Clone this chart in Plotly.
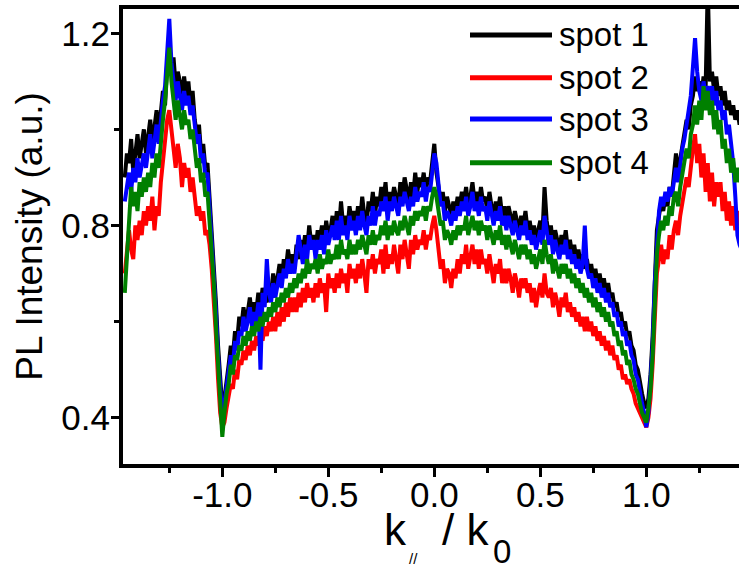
import numpy as np
import plotly.graph_objects as go

# sampling of k_par / k0 (step 0.01)
k_ratio = np.round(np.linspace(-1.46, 1.46, 293), 2)

spot1 = [0.90, 0.95, 0.93, 0.98, 0.91, 0.96, 0.99, 0.94, 0.97, 1.00,
         0.95, 0.98, 1.02, 0.97, 1.00, 1.04, 0.99, 1.03, 1.08, 1.05,
         1.14, 1.18, 1.12, 1.15, 1.09, 1.12, 1.10, 1.06, 1.11, 1.07,
         1.10, 1.05, 1.08, 1.02, 0.99, 1.01, 0.95, 0.97, 0.92, 0.93,
         0.86, 0.80, 0.73, 0.64, 0.55, 0.47, 0.42, 0.44, 0.47, 0.51,
         0.55, 0.53, 0.58, 0.56, 0.61, 0.59, 0.63, 0.60, 0.62, 0.65,
         0.61, 0.64, 0.62, 0.66, 0.63, 0.67, 0.65, 0.64, 0.68, 0.66,
         0.70, 0.67, 0.69, 0.72, 0.68, 0.73, 0.71, 0.75, 0.72, 0.74,
         0.71, 0.76, 0.73, 0.77, 0.74, 0.78, 0.75, 0.80, 0.76, 0.78,
         0.75, 0.79, 0.77, 0.80, 0.76, 0.81, 0.78, 0.79, 0.82, 0.78,
         0.83, 0.79, 0.85, 0.80, 0.82, 0.79, 0.84, 0.81, 0.83, 0.80,
         0.84, 0.81, 0.86, 0.82, 0.80, 0.85, 0.83, 0.87, 0.82, 0.86,
         0.84, 0.88, 0.85, 0.89, 0.83, 0.87, 0.85, 0.88, 0.86, 0.84,
         0.89, 0.86, 0.90, 0.87, 0.85, 0.89, 0.86, 0.91, 0.87, 0.90,
         0.88, 0.91, 0.87, 0.90, 0.89, 0.93, 0.97, 0.91, 0.88, 0.85,
         0.87, 0.83, 0.86, 0.84, 0.82, 0.85, 0.83, 0.86, 0.84, 0.87,
         0.85, 0.88, 0.84, 0.86, 0.89, 0.85, 0.87, 0.84, 0.88, 0.85,
         0.86, 0.83, 0.87, 0.84, 0.82, 0.85, 0.83, 0.86, 0.82, 0.84,
         0.81, 0.84, 0.82, 0.80, 0.83, 0.81, 0.79, 0.82, 0.80, 0.83,
         0.79, 0.81, 0.78, 0.80, 0.77, 0.79, 0.81, 0.78, 0.88, 0.81,
         0.78, 0.80, 0.76, 0.79, 0.77, 0.75, 0.78, 0.76, 0.79, 0.75,
         0.77, 0.74, 0.76, 0.73, 0.75, 0.72, 0.74, 0.71, 0.73, 0.70,
         0.72, 0.69, 0.71, 0.68, 0.70, 0.67, 0.69, 0.66, 0.68, 0.65,
         0.66, 0.63, 0.64, 0.61, 0.62, 0.59, 0.60, 0.57, 0.58, 0.55,
         0.54, 0.51, 0.50, 0.47, 0.45, 0.43, 0.42, 0.44, 0.49, 0.57,
         0.70, 0.79, 0.82, 0.85, 0.83, 0.86, 0.84, 0.88, 0.86, 0.90,
         0.95, 0.91, 0.94, 0.97, 0.99, 1.02, 1.00, 1.05, 1.07, 1.11,
         1.08, 1.10, 1.07, 1.11, 1.09, 1.30, 1.10, 1.12, 1.08, 1.11,
         1.07, 1.09, 1.05, 1.08, 1.04, 1.06, 1.03, 1.05, 1.02, 1.04,
         1.01, 1.03, 1.00]

spot2 = [0.70, 0.74, 0.79, 0.75, 0.73, 0.80, 0.77, 0.81, 0.78, 0.83,
         0.80, 0.84, 0.81, 0.86, 0.79, 0.84, 0.82, 0.89, 0.94, 0.99,
         1.02, 1.04, 0.99, 0.96, 0.92, 0.97, 0.94, 0.88, 0.93, 0.90,
         0.92, 0.87, 0.90, 0.85, 0.82, 0.84, 0.81, 0.83, 0.78, 0.79,
         0.76, 0.71, 0.65, 0.57, 0.48, 0.41, 0.38, 0.39, 0.42, 0.45,
         0.47, 0.46, 0.50, 0.48, 0.52, 0.51, 0.54, 0.52, 0.55, 0.53,
         0.56, 0.54, 0.57, 0.55, 0.58, 0.56, 0.59, 0.57, 0.60, 0.58,
         0.61, 0.58, 0.62, 0.59, 0.63, 0.60, 0.64, 0.61, 0.65, 0.62,
         0.65, 0.62, 0.66, 0.63, 0.67, 0.64, 0.68, 0.65, 0.67, 0.64,
         0.68, 0.65, 0.69, 0.66, 0.68, 0.62, 0.70, 0.67, 0.69, 0.66,
         0.70, 0.67, 0.71, 0.68, 0.70, 0.66, 0.72, 0.69, 0.71, 0.68,
         0.72, 0.69, 0.73, 0.70, 0.66, 0.73, 0.71, 0.74, 0.70, 0.73,
         0.72, 0.75, 0.70, 0.76, 0.71, 0.74, 0.72, 0.76, 0.73, 0.70,
         0.76, 0.73, 0.77, 0.74, 0.71, 0.77, 0.74, 0.78, 0.75, 0.77,
         0.76, 0.79, 0.75, 0.78, 0.77, 0.80, 0.82, 0.79, 0.75, 0.71,
         0.73, 0.68, 0.71, 0.70, 0.67, 0.71, 0.69, 0.73, 0.70, 0.74,
         0.72, 0.76, 0.71, 0.74, 0.76, 0.72, 0.75, 0.71, 0.75, 0.72,
         0.73, 0.70, 0.74, 0.71, 0.68, 0.72, 0.70, 0.73, 0.68, 0.71,
         0.68, 0.71, 0.69, 0.66, 0.70, 0.68, 0.65, 0.69, 0.67, 0.69,
         0.66, 0.68, 0.64, 0.67, 0.63, 0.66, 0.68, 0.65, 0.70, 0.66,
         0.65, 0.67, 0.63, 0.66, 0.64, 0.61, 0.65, 0.63, 0.66, 0.62,
         0.64, 0.61, 0.63, 0.60, 0.62, 0.59, 0.61, 0.58, 0.61, 0.58,
         0.60, 0.57, 0.59, 0.56, 0.58, 0.55, 0.57, 0.54, 0.56, 0.53,
         0.55, 0.52, 0.53, 0.50, 0.51, 0.48, 0.49, 0.47, 0.48, 0.46,
         0.45, 0.43, 0.42, 0.41, 0.40, 0.39, 0.38, 0.40, 0.44, 0.51,
         0.62, 0.70, 0.73, 0.76, 0.72, 0.75, 0.73, 0.78, 0.75, 0.79,
         0.81, 0.78, 0.82, 0.85, 0.87, 0.90, 0.88, 0.93, 0.96, 0.99,
         0.93, 0.97, 0.90, 0.95, 0.87, 0.93, 0.85, 0.91, 0.84, 0.89,
         0.86, 0.89, 0.83, 0.87, 0.81, 0.85, 0.80, 0.84, 0.79, 0.83,
         0.80, 0.82, 0.81]

spot3 = [0.85, 0.88, 0.91, 0.87, 0.92, 0.89, 0.94, 0.90, 0.93, 0.95,
         0.92, 0.96, 0.99, 0.94, 0.98, 1.01, 0.97, 1.02, 1.06, 1.09,
         1.16, 1.23, 1.14, 1.10, 1.06, 1.10, 1.07, 1.04, 1.08, 1.05,
         1.07, 1.03, 1.05, 1.00, 0.97, 0.99, 0.93, 0.95, 0.90, 0.91,
         0.84, 0.78, 0.71, 0.62, 0.53, 0.45, 0.40, 0.43, 0.46, 0.49,
         0.53, 0.51, 0.56, 0.54, 0.58, 0.57, 0.61, 0.58, 0.60, 0.63,
         0.59, 0.62, 0.60, 0.64, 0.50, 0.66, 0.63, 0.73, 0.66, 0.64,
         0.68, 0.65, 0.68, 0.70, 0.67, 0.71, 0.69, 0.73, 0.70, 0.72,
         0.70, 0.74, 0.78, 0.75, 0.72, 0.76, 0.73, 0.78, 0.75, 0.77,
         0.73, 0.77, 0.75, 0.78, 0.74, 0.79, 0.76, 0.78, 0.80, 0.77,
         0.81, 0.77, 0.82, 0.78, 0.80, 0.77, 0.82, 0.79, 0.81, 0.78,
         0.82, 0.79, 0.83, 0.80, 0.78, 0.82, 0.80, 0.84, 0.80, 0.83,
         0.82, 0.85, 0.83, 0.86, 0.81, 0.85, 0.83, 0.86, 0.84, 0.82,
         0.86, 0.84, 0.87, 0.85, 0.83, 0.86, 0.84, 0.88, 0.85, 0.87,
         0.86, 0.89, 0.85, 0.88, 0.87, 0.91, 0.95, 0.93, 0.89, 0.84,
         0.85, 0.81, 0.83, 0.82, 0.80, 0.83, 0.81, 0.84, 0.82, 0.85,
         0.83, 0.86, 0.82, 0.84, 0.87, 0.83, 0.85, 0.82, 0.86, 0.83,
         0.84, 0.81, 0.85, 0.82, 0.80, 0.83, 0.81, 0.84, 0.80, 0.82,
         0.79, 0.82, 0.80, 0.78, 0.81, 0.79, 0.77, 0.80, 0.78, 0.81,
         0.77, 0.79, 0.76, 0.78, 0.75, 0.77, 0.79, 0.76, 0.82, 0.79,
         0.76, 0.78, 0.74, 0.77, 0.75, 0.73, 0.76, 0.74, 0.77, 0.73,
         0.75, 0.72, 0.74, 0.71, 0.73, 0.70, 0.72, 0.80, 0.71, 0.69,
         0.70, 0.67, 0.69, 0.66, 0.68, 0.65, 0.67, 0.64, 0.66, 0.63,
         0.64, 0.61, 0.62, 0.59, 0.60, 0.57, 0.58, 0.55, 0.56, 0.53,
         0.52, 0.49, 0.48, 0.45, 0.43, 0.41, 0.38, 0.41, 0.47, 0.55,
         0.68, 0.77, 0.83, 0.86, 0.84, 0.87, 0.85, 0.88, 0.86, 0.89,
         0.92, 0.89, 0.93, 0.96, 0.98, 1.01, 1.04, 1.07, 1.13, 1.19,
         1.12, 1.08, 1.06, 1.10, 1.07, 1.09, 1.06, 1.09, 1.05, 1.08,
         1.04, 1.06, 1.02, 1.04, 0.99, 1.01, 0.97, 0.93, 0.86, 0.78,
         0.76, 0.75, 0.74]

spot4 = [0.66, 0.74, 0.83, 0.88, 0.84, 0.87, 0.83, 0.89, 0.86, 0.90,
         0.87, 0.91, 0.88, 0.93, 0.90, 0.95, 0.92, 0.98, 1.02, 1.06,
         1.12, 1.17, 1.10, 1.05, 1.02, 1.06, 1.03, 1.00, 1.04, 1.01,
         1.02, 0.98, 1.00, 0.95, 0.92, 0.94, 0.89, 0.91, 0.86, 0.87,
         0.81, 0.75, 0.68, 0.59, 0.50, 0.43, 0.36, 0.41, 0.45, 0.47,
         0.51, 0.49, 0.53, 0.52, 0.55, 0.54, 0.57, 0.55, 0.58, 0.56,
         0.59, 0.57, 0.60, 0.58, 0.61, 0.59, 0.62, 0.60, 0.63, 0.61,
         0.64, 0.62, 0.65, 0.63, 0.66, 0.64, 0.67, 0.65, 0.68, 0.66,
         0.69, 0.67, 0.70, 0.68, 0.71, 0.69, 0.73, 0.70, 0.72, 0.71,
         0.73, 0.70, 0.74, 0.71, 0.73, 0.72, 0.75, 0.72, 0.74, 0.73,
         0.76, 0.73, 0.77, 0.74, 0.75, 0.73, 0.77, 0.74, 0.76, 0.74,
         0.77, 0.75, 0.78, 0.76, 0.74, 0.78, 0.76, 0.79, 0.76, 0.78,
         0.77, 0.80, 0.78, 0.81, 0.77, 0.80, 0.78, 0.81, 0.79, 0.78,
         0.81, 0.79, 0.82, 0.80, 0.78, 0.82, 0.80, 0.83, 0.81, 0.83,
         0.82, 0.84, 0.81, 0.84, 0.83, 0.86, 0.88, 0.86, 0.83, 0.80,
         0.81, 0.77, 0.79, 0.78, 0.76, 0.79, 0.77, 0.80, 0.78, 0.80,
         0.79, 0.82, 0.78, 0.80, 0.82, 0.79, 0.81, 0.78, 0.81, 0.79,
         0.80, 0.77, 0.80, 0.78, 0.76, 0.79, 0.77, 0.80, 0.76, 0.78,
         0.75, 0.78, 0.76, 0.74, 0.77, 0.75, 0.73, 0.76, 0.74, 0.76,
         0.73, 0.75, 0.72, 0.74, 0.71, 0.73, 0.75, 0.72, 0.77, 0.74,
         0.72, 0.74, 0.70, 0.73, 0.71, 0.69, 0.72, 0.70, 0.72, 0.69,
         0.71, 0.68, 0.70, 0.67, 0.69, 0.66, 0.68, 0.65, 0.67, 0.64,
         0.66, 0.63, 0.65, 0.62, 0.64, 0.61, 0.63, 0.60, 0.62, 0.59,
         0.60, 0.57, 0.58, 0.55, 0.56, 0.53, 0.54, 0.51, 0.52, 0.49,
         0.48, 0.46, 0.45, 0.43, 0.41, 0.40, 0.39, 0.42, 0.46, 0.53,
         0.65, 0.74, 0.78, 0.81, 0.79, 0.82, 0.80, 0.84, 0.82, 0.86,
         0.87, 0.84, 0.88, 0.91, 0.93, 0.96, 0.94, 0.99, 1.01, 1.05,
         1.01, 1.06, 1.02, 1.09, 1.04, 1.08, 1.03, 1.06, 1.00, 1.04,
         0.99, 1.02, 0.96, 0.98, 0.93, 0.96, 0.91, 0.94, 0.89, 0.92,
         0.89, 0.91, 0.90]

names = ["spot 1", "spot 2", "spot 3", "spot 4"]
colors = ["#000000", "#ff0000", "#0000ff", "#008000"]
series = [spot1, spot2, spot3, spot4]
for s in series:
    assert len(s) == len(k_ratio), len(s)

x_tickvals = [-1.0, -0.5, 0.0, 0.5, 1.0]
x_ticktext = ["-1.0", "-0.5", "0.0", "0.5", "1.0"]
x_minor = [-1.25, -0.75, -0.25, 0.25, 0.75, 1.25]
y_tickvals = [0.4, 0.8, 1.2]
y_ticktext = ["0.4", "0.8", "1.2"]
y_minor = [0.6, 1.0]

FONT = "Arial, Liberation Sans, sans-serif"
PLOT_L, PLOT_W = 123, 616


def px(xpix):
    return (xpix - PLOT_L) / PLOT_W


fig = go.Figure()
for name, col, ys in zip(names, colors, series):
    fig.add_trace(go.Scatter(x=k_ratio, y=ys, mode="lines", name=name,
                             line=dict(color=col, width=4),
                             showlegend=False))

# legend drawn manually (long line samples as in the original)
leg_y = [0.943, 0.849, 0.758, 0.662]
for name, col, yy in zip(names, colors, leg_y):
    fig.add_shape(type="line", xref="paper", yref="paper",
                  x0=px(470), x1=px(552), y0=yy, y1=yy,
                  line=dict(color=col, width=5))
    fig.add_annotation(xref="paper", yref="paper", x=px(557), y=yy,
                       xanchor="left", yanchor="middle", showarrow=False,
                       text=name, font=dict(family=FONT, size=33, color="#000"))

# x-axis title: k_// / k_0
title_parts = [("k", 44, 382, -39), ("//", 15, 407, -84),
               ("/ k", 44, 440, -39), ("0", 33, 491, -67)]
for txt, size, xpix, ysh in title_parts:
    fig.add_annotation(xref="paper", yref="paper", x=px(xpix), y=0,
                       xanchor="left", yanchor="top", yshift=ysh,
                       showarrow=False, text=txt,
                       font=dict(family=FONT, size=size, color="#000"))

fig.update_layout(
    width=739, height=575,
    margin=dict(l=123, r=0, t=9, b=111),
    paper_bgcolor="white", plot_bgcolor="white",
    font=dict(family=FONT, color="#000"),
    showlegend=False,
    xaxis=dict(range=[-1.4684, 1.4373], showgrid=False, zeroline=False,
               automargin=False,
               showline=True, linecolor="#000", linewidth=4, mirror=True,
               ticks="outside", ticklen=9, tickwidth=3, tickcolor="#000",
               tickmode="array", tickvals=x_tickvals, ticktext=x_ticktext,
               ticklabelstandoff=-12,
               tickfont=dict(family=FONT, size=35, color="#000"),
               minor=dict(tickmode="array", tickvals=x_minor, ticks="outside",
                          ticklen=5, tickwidth=3, tickcolor="#000")),
    yaxis=dict(range=[0.3036, 1.2506], showgrid=False, zeroline=False,
               automargin=False,
               showline=True, linecolor="#000", linewidth=4, mirror=False,
               ticks="outside", ticklen=8, tickwidth=3, tickcolor="#000",
               tickmode="array", tickvals=y_tickvals, ticktext=y_ticktext,
               ticklabelstandoff=-6,
               tickfont=dict(family=FONT, size=35, color="#000"),
               minor=dict(tickmode="array", tickvals=y_minor, ticks="outside",
                          ticklen=5, tickwidth=3, tickcolor="#000"),
               title=dict(text="PL Intensity (a.u.)", standoff=8,
                          font=dict(family=FONT, size=37, color="#000"))),
)

fig.write_html("out.html", config={"displayModeBar": False},
               post_script="document.body.style.margin='0px';")
